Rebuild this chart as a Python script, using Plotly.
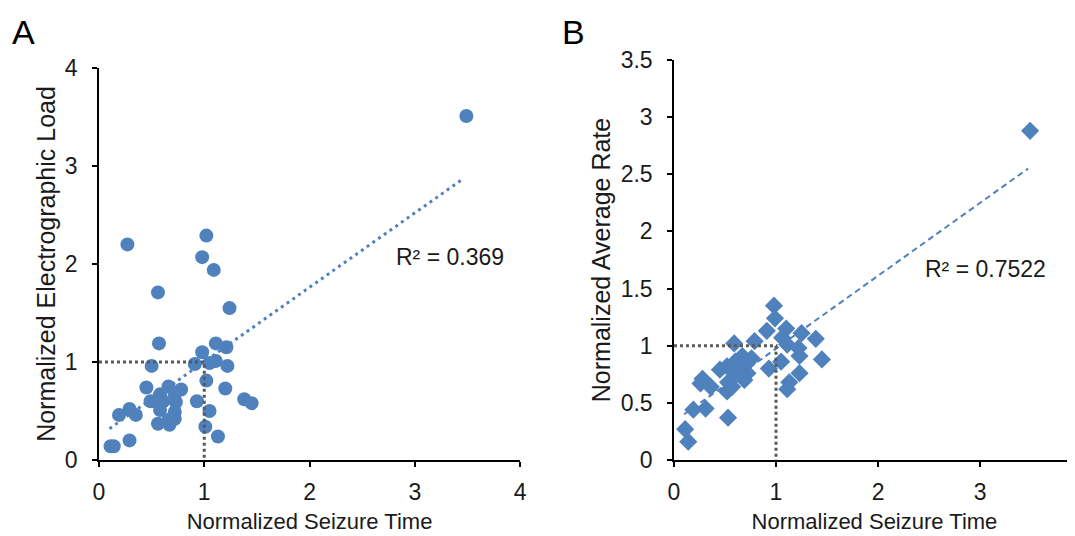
#------------------------------------------------------------------------------
#   Seizure time vs. electrographic load / average rate (two panels)
#------------------------------------------------------------------------------
import numpy as np
import plotly.graph_objects as go

#------------------------------------------------------------------------------
#   Data
#------------------------------------------------------------------------------
load_time = [3.49, 0.27, 1.02, 0.98, 1.09, 0.56, 1.24, 0.57, 1.11, 1.21,
             0.98, 1.11, 1.05, 0.91, 0.50, 1.22, 1.02, 0.45, 0.66, 0.78,
             1.20, 1.38, 1.45, 0.93, 0.49, 0.58, 0.61, 0.73, 0.72, 0.58,
             0.72, 1.05, 0.29, 0.19, 0.35, 0.56, 0.67, 0.72, 1.01, 1.13,
             0.29, 0.11, 0.14, 0.53, 0.66]
load_value = [3.51, 2.20, 2.29, 2.07, 1.94, 1.71, 1.55, 1.19, 1.19, 1.15,
              1.10, 1.01, 0.99, 0.98, 0.96, 0.96, 0.81, 0.74, 0.75, 0.72,
              0.73, 0.62, 0.58, 0.60, 0.60, 0.67, 0.60, 0.59, 0.67, 0.51,
              0.49, 0.50, 0.52, 0.46, 0.46, 0.37, 0.36, 0.42, 0.34, 0.24,
              0.20, 0.14, 0.14, 0.60, 0.41]

rate_time = [3.49, 0.98, 0.99, 0.91, 1.10, 1.25, 1.39, 0.79, 0.59, 1.06,
             1.11, 1.22, 1.23, 1.45, 1.05, 0.93, 1.23, 1.13, 1.11, 0.45,
             0.52, 0.60, 0.67, 0.72, 0.64, 0.72, 0.69, 0.59, 0.53, 0.52,
             0.28, 0.26, 0.36, 0.19, 0.31, 0.53, 0.11, 0.14, 0.76, 0.57]
rate_value = [2.88, 1.35, 1.24, 1.13, 1.15, 1.11, 1.06, 1.04, 1.02, 1.07,
              1.01, 0.98, 0.91, 0.88, 0.86, 0.80, 0.76, 0.68, 0.62, 0.79,
              0.82, 0.86, 0.91, 0.85, 0.77, 0.76, 0.70, 0.73, 0.68, 0.60,
              0.71, 0.67, 0.64, 0.44, 0.45, 0.37, 0.27, 0.16, 0.89, 0.64]

# linear trend lines: slope, intercept, x extent
load_fit = (0.759, 0.244, [0.10, 3.46])
rate_fit = (0.638, 0.336, [0.10, 3.47])
load_r2 = "R² = 0.369"
rate_r2 = "R² = 0.7522"

load_ticks = [0, 1, 2, 3, 4]
rate_ticks = [0, 0.5, 1, 1.5, 2, 2.5, 3, 3.5]
time_ticks = [0, 1, 2, 3, 4]
rate_xmax = 3.93          # panel B runs off the right edge of the page

#------------------------------------------------------------------------------
#   Styles
#------------------------------------------------------------------------------
blue = "#4f81bd"
grey = "#595959"
ink = "#1a1a1a"
font = "Liberation Sans, Arial, sans-serif"

def fit_line(fit):
    slope, icpt, xs = fit
    xs = np.array(xs)
    return xs, slope*xs + icpt

#------------------------------------------------------------------------------
#   Figure
#------------------------------------------------------------------------------
fig = go.Figure()

# panel A
fig.add_trace(go.Scatter(x=load_time, y=load_value, mode="markers",
                         marker=dict(symbol="circle", size=14, color=blue),
                         xaxis="x", yaxis="y"))
fx, fy = fit_line(load_fit)
fig.add_trace(go.Scatter(x=fx, y=fy, mode="lines",
                         line=dict(color=blue, width=3, dash="3px,4px"),
                         xaxis="x", yaxis="y"))
fig.add_trace(go.Scatter(x=[0, 1, 1], y=[1, 1, 0], mode="lines",
                         line=dict(color=grey, width=3, dash="3px,3px"),
                         xaxis="x", yaxis="y"))

# panel B
fig.add_trace(go.Scatter(x=rate_time, y=rate_value, mode="markers",
                         marker=dict(symbol="diamond", size=14, color=blue),
                         xaxis="x2", yaxis="y2"))
fx, fy = fit_line(rate_fit)
fig.add_trace(go.Scatter(x=fx, y=fy, mode="lines",
                         line=dict(color=blue, width=2, dash="6px,4px"),
                         xaxis="x2", yaxis="y2"))
fig.add_trace(go.Scatter(x=[0, 1, 1], y=[1, 1, 0], mode="lines",
                         line=dict(color=grey, width=3, dash="3px,3px"),
                         xaxis="x2", yaxis="y2"))

axis_style = dict(showline=True, linecolor="black", linewidth=1.5,
                  ticks="outside", ticklen=5, tickwidth=1.5, tickcolor="black",
                  showgrid=False, zeroline=False, fixedrange=True,
                  automargin=False,
                  tickfont=dict(family=font, size=23, color=ink))
xt_font = dict(family=font, size=22, color=ink)
yt_font = dict(family=font, size=25, color=ink)

fig.update_layout(
    width=1075, height=536,
    margin=dict(l=91, r=8, t=52, b=84),
    paper_bgcolor="white", plot_bgcolor="white",
    showlegend=False,
    xaxis=dict(axis_style, domain=[0, 0.4314], range=[0, 4],
               tickvals=time_ticks, anchor="y", ticklabelstandoff=6,
               title=dict(text="Normalized Seizure Time", font=xt_font,
                          standoff=9)),
    yaxis=dict(axis_style, domain=[0, 0.98], range=[0, 4],
               tickvals=load_ticks, anchor="x", ticklabelstandoff=10,
               title=dict(text="Normalized Electrographic Load",
                          font=yt_font, standoff=2)),
    xaxis2=dict(axis_style, domain=[0.5891, 1.0], range=[0, rate_xmax],
                tickvals=time_ticks, anchor="y2", ticklabelstandoff=6,
                title=dict(text="Normalized Seizure Time", font=xt_font,
                           standoff=9)),
    yaxis2=dict(axis_style, domain=[0, 1], range=[0, 3.5],
                tickvals=rate_ticks, anchor="x2", ticklabelstandoff=10,
                title=dict(text="Normalized Average Rate", font=yt_font,
                           standoff=3)),
)

fig.add_annotation(x=3.33, y=2.07, xref="x", yref="y", text=load_r2,
                   showarrow=False, font=dict(family=font, size=23, color=ink))
fig.add_annotation(x=3.05, y=1.67, xref="x2", yref="y2", text=rate_r2,
                   showarrow=False, font=dict(family=font, size=23, color=ink))

# last tick label of panel B is cut by the page edge
fig.add_annotation(x=time_ticks[-1]/rate_xmax, y=0, xref="x2 domain",
                   yref="y2 domain", text=str(time_ticks[-1]),
                   showarrow=False, yshift=-31,
                   xanchor="center", yanchor="middle",
                   font=dict(family=font, size=23, color=ink))

# panel letters
fig.add_annotation(x=-0.077, y=1.07, xref="paper", yref="paper", text="A",
                   showarrow=False, xanchor="center", yanchor="middle",
                   font=dict(family=font, size=34, color="black"))
fig.add_annotation(x=0.4857, y=1.07, xref="paper", yref="paper", text="B",
                   showarrow=False, xanchor="center", yanchor="middle",
                   font=dict(family=font, size=34, color="black"))

fig.write_html("out.html")
